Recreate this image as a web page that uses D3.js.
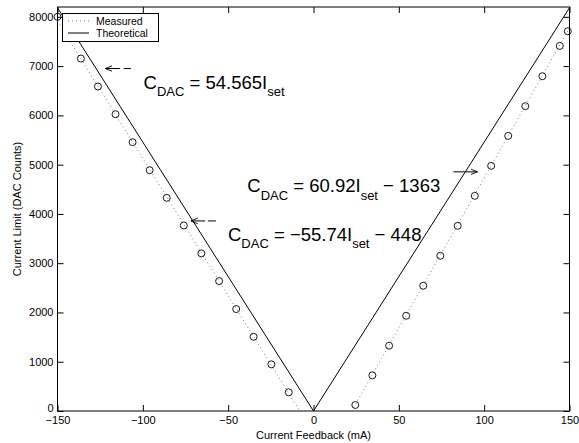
<!DOCTYPE html>
<html><head><meta charset="utf-8">
<script src="https://cdn.jsdelivr.net/npm/d3@7"></script>
<style>body{margin:0;background:#fff;} text{font-family:"Liberation Sans",Arial,Helvetica,sans-serif;}</style>
</head><body><svg id="c" width="579" height="443"></svg>
<script>
// ---- data ----
const xTicks = [-150, -100, -50, 0, 50, 100, 150];
const yTicks = [0, 1000, 2000, 3000, 4000, 5000, 6000, 7000, 8000];
const measuredLeftX = [-150, -136.3, -126.3, -116, -106, -96, -86, -76, -65.7, -55.3, -45.3, -35.1, -24.7, -14.5];
const measuredLeftY = [8000, 7154, 6586, 6024, 5456, 4888, 4327, 3766, 3199, 2637, 2069, 1507, 947, 379];
const measuredRightX = [24.5, 34.5, 44.3, 54.3, 64.3, 74.3, 84.5, 94.5, 104.1, 114.1, 124.1, 134.1, 144.3, 149];
const measuredRightY = [122, 724, 1325, 1933, 2542, 3150, 3759, 4367, 4976, 5584, 6187, 6795, 7410, 7708];
const fitLeft = [[-150, 7913], [-8.04, 0]];
const fitRight = [[22.37, 0], [150, 7775]];
const theoretical = [[-150, 8185], [0, 0], [150, 8185]];
const legendLabels = ["Measured", "Theoretical"];
const equations = [
  {x: -99.6, y: 6540, parts: ["C", "DAC", " = 54.565I", "set", ""]},
  {x: -38.8, y: 4440, parts: ["C", "DAC", " = 60.92I", "set", " \u2212 1363"]},
  {x: -50.1, y: 3455, parts: ["C", "DAC", " = \u221255.74I", "set", " \u2212 448"]}
];
const arrows = [
  {from: [-113.5, 6951], to: [-122, 6951], dash: [-111.2, -107]},
  {from: [-63.5, 3858], to: [-71.9, 3858], dash: [-61.8, -57.2]},
  {from: [82, 4854], to: [96.1, 4854], dash: null}
];

// ---- chart ----
const svg = d3.select("#c");
const x = d3.scaleLinear().domain([-150, 150]).range([57.5, 569.5]);
const y = d3.scaleLinear().domain([0, 8200]).range([411, 7]);
const font = "Liberation Sans, Arial, sans-serif";

svg.append("defs").append("marker").attr("id", "ah").attr("viewBox", "0 0 10 10")
  .attr("refX", 10).attr("refY", 5).attr("markerWidth", 7).attr("markerHeight", 7)
  .attr("markerUnits", "userSpaceOnUse").attr("orient", "auto")
  .append("path").attr("d", "M0,1 L10,5 L0,9").attr("fill", "none").attr("stroke", "#000").attr("stroke-width", 1.3);

// frame
svg.append("rect").attr("x", x(-150)).attr("y", y(8200)).attr("width", x(150) - x(-150))
  .attr("height", y(0) - y(8200)).attr("fill", "none").attr("stroke", "#000").attr("stroke-width", 1);

// axes (ticks inward)
const axB = svg.append("g").attr("transform", `translate(0,${y(0)})`)
  .call(d3.axisBottom(x).tickValues(xTicks).tickSize(-6).tickPadding(5).tickFormat(d => d < 0 ? "\u2212" + Math.abs(d) : d));
const axT = svg.append("g").attr("transform", `translate(0,${y(8200)})`)
  .call(d3.axisTop(x).tickValues(xTicks).tickSize(-6).tickFormat(""));
const axL = svg.append("g").attr("transform", `translate(${x(-150)},0)`)
  .call(d3.axisLeft(y).tickValues(yTicks).tickSize(-6).tickPadding(4).tickFormat(d3.format("d")));
const axR = svg.append("g").attr("transform", `translate(${x(150)},0)`)
  .call(d3.axisRight(y).tickValues(yTicks).tickSize(-6).tickFormat(""));
[axB, axT, axL, axR].forEach(a => {
  a.select(".domain").remove();
  a.selectAll("line").attr("stroke", "#000");
  a.selectAll("text").attr("font-size", 11).attr("font-family", font).attr("fill", "#000");
});
axL.selectAll(".tick").filter(d => d === 0).select("text").attr("dy", "0.0em");

// fit (measured) dotted lines
const line = d3.line().x(d => x(d[0])).y(d => y(d[1]));
[fitLeft, fitRight].forEach(f => {
  svg.append("path").datum(f).attr("d", line).attr("fill", "none")
    .attr("stroke", "#777").attr("stroke-width", 1).attr("stroke-dasharray", "1,3");
});
// theoretical
svg.append("path").datum(theoretical).attr("d", line).attr("fill", "none")
  .attr("stroke", "#000").attr("stroke-width", 1);

// circles
const pts = measuredLeftX.map((v, i) => [v, measuredLeftY[i]])
  .concat(measuredRightX.map((v, i) => [v, measuredRightY[i]]));
svg.selectAll("circle.m").data(pts).enter().append("circle").attr("class", "m")
  .attr("cx", d => x(d[0])).attr("cy", d => y(d[1])).attr("r", 3.5)
  .attr("fill", "none").attr("stroke", "#000").attr("stroke-width", 0.9);

// equations
equations.forEach(e => {
  const t = svg.append("text").attr("x", x(e.x)).attr("y", y(e.y))
    .attr("font-size", 18.5).attr("font-family", font).attr("fill", "#000");
  t.append("tspan").text(e.parts[0]);
  t.append("tspan").attr("font-size", 13).attr("dy", 7.5).text(e.parts[1]);
  t.append("tspan").attr("dy", -7.5).text(e.parts[2]);
  t.append("tspan").attr("font-size", 13).attr("dy", 7.5).text(e.parts[3]);
  if (e.parts[4]) t.append("tspan").attr("dy", -7.5).text(e.parts[4]);
});

// arrows
arrows.forEach(a => {
  svg.append("line").attr("x1", x(a.from[0])).attr("y1", y(a.from[1]))
    .attr("x2", x(a.to[0])).attr("y2", y(a.to[1])).attr("stroke", "#000").attr("stroke-width", 1)
    .attr("marker-end", "url(#ah)");
  if (a.dash) {
    svg.append("line").attr("x1", x(a.dash[0])).attr("x2", x(a.dash[1]))
      .attr("y1", y(a.from[1])).attr("y2", y(a.from[1])).attr("stroke", "#000").attr("stroke-width", 1);
  }
});

// axis labels
svg.append("text").attr("x", x(0)).attr("y", 439).attr("text-anchor", "middle")
  .attr("font-size", 11).attr("font-family", font).text("Current Feedback (mA)");
svg.append("text").attr("transform", `translate(21,${(y(0) + y(8200)) / 2}) rotate(-90)`)
  .attr("text-anchor", "middle").attr("font-size", 11).attr("font-family", font)
  .text("Current Limit (DAC Counts)");

// legend
const lg = svg.append("g");
lg.append("rect").attr("x", 62.5).attr("y", 13.5).attr("width", 96).attr("height", 28)
  .attr("fill", "#fff").attr("stroke", "#000").attr("stroke-width", 1);
legendLabels.forEach((l, i) => {
  const yy = 21 + i * 12;
  lg.append("line").attr("x1", 68).attr("x2", 89).attr("y1", yy).attr("y2", yy)
    .attr("stroke", i === 0 ? "#777" : "#000").attr("stroke-width", 1)
    .attr("stroke-dasharray", i === 0 ? "1,3" : null);
  lg.append("text").attr("x", 96).attr("y", yy + 3.8).attr("font-size", 10.5)
    .attr("font-family", font).text(l);
});
</script></body></html>
